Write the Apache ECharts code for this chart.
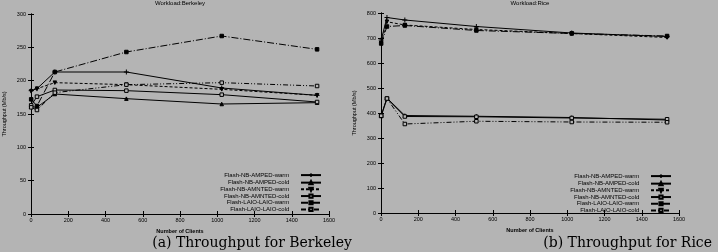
<!DOCTYPE html>
<html>
<head>
<meta charset="utf-8">
<script src="https://cdn.jsdelivr.net/npm/echarts@6/dist/echarts.min.js"></script>
<style>
html,body{margin:0;padding:0;background:#b4b4b4;}
#c{width:718px;height:252px;}
</style>
</head>
<body>
<div id="c"></div>
<script>
// ---- data ----
const clients = [1, 32, 128, 512, 1024, 1536];
const seriesNames = ['Flash-NB-AMPED-warm','Flash-NB-AMPED-cold','Flash-NB-AMNTED-warm','Flash-NB-AMNTED-cold','Flash-LAIO-LAIO-warm','Flash-LAIO-LAIO-cold'];
// Berkeley workload throughput (Mb/s)
const berkAmpedWarm  = [185, 188, 213, 213, 189, 178];
const berkAmpedCold  = [161, 160, 180, 173, 165, 167];
const berkAmntedWarm = [184, 188, 197, 194, 187, 178];
const berkAmntedCold = [163, 176, 186, 185, 179, 168];
const berkLaioWarm   = [172, 162, 213, 243, 267, 247];
const berkLaioCold   = [160, 156, 182, 194, 197, 192];
// Rice workload throughput (Mb/s)
const riceAmpedWarm  = [692, 782, 772, 746, 720, 706];
const riceAmpedCold  = [390, 460, 390, 387, 382, 372];
const riceAmntedWarm = [680, 765, 752, 734, 718, 702];
const riceAmntedCold = [388, 458, 386, 385, 380, 375];
const riceLaioWarm   = [678, 746, 750, 730, 718, 708];
const riceLaioCold   = [389, 458, 356, 367, 364, 363];
const xTicks = {min: 0, max: 1600, interval: 200};
const berkY = {min: 0, max: 300, interval: 50};
const riceY = {min: 0, max: 800, interval: 100};

// ---- styles ----
const BG = '#b4b4b4';
const FONT = 'Liberation Sans';
const plusPath = 'path://M0,5L10,5M5,0L5,10';
const styles = [
  {symbol: plusPath, symbolSize: 5, dash: 'solid', fill: 'none'},
  {symbol: 'triangle', symbolSize: 3.5, dash: 'solid', fill: '#000'},
  {symbol: 'triangle', symbolSize: 3.5, rotate: 180, dash: [3, 2], fill: '#000'},
  {symbol: 'rect', symbolSize: 3.5, dash: 'solid', fill: BG},
  {symbol: 'rect', symbolSize: 3.5, dash: [7, 2, 1, 2], fill: '#000'},
  {symbol: 'rect', symbolSize: 3.5, dash: [5, 2, 1, 2, 1, 2], fill: BG}
];
const berkData = [berkAmpedWarm, berkAmpedCold, berkAmntedWarm, berkAmntedCold, berkLaioWarm, berkLaioCold];
const riceData = [riceAmpedWarm, riceAmpedCold, riceAmntedWarm, riceAmntedCold, riceLaioWarm, riceLaioCold];

function mkSeries(dataArr, axisIdx) {
  return dataArr.map((vals, i) => {
    const s = styles[i];
    return {
      type: 'line',
      name: seriesNames[i],
      xAxisIndex: axisIdx * 2,
      yAxisIndex: axisIdx * 2,
      data: clients.map((x, k) => [x, vals[k]]),
      symbol: s.symbol,
      symbolSize: s.symbolSize,
      symbolRotate: s.rotate || 0,
      showAllSymbol: true,
      lineStyle: {color: '#000', width: 1, type: s.dash},
      itemStyle: {color: s.fill, borderColor: '#000', borderWidth: 1},
      emphasis: {disabled: true},
      z: 3
    };
  });
}

const tickFmt = v => String(v);
function xAxes(gi) {
  const common = {
    type: 'value', gridIndex: gi, min: xTicks.min, max: xTicks.max, interval: xTicks.interval,
    axisLine: {show: true, lineStyle: {color: '#000', width: 1}},
    axisTick: {show: true, inside: true, length: 3, lineStyle: {color: '#000'}},
    splitLine: {show: false}
  };
  return [
    Object.assign({}, common, {
      position: 'bottom',
      axisLabel: {show: true, color: '#000', fontSize: 5.5, fontFamily: FONT, margin: 3, formatter: tickFmt},
      name: 'Number of Clients', nameLocation: 'middle', nameGap: 14,
      nameTextStyle: {color: '#000', fontSize: 5.5, fontFamily: FONT, fontWeight: 'bold'}
    }),
    Object.assign({}, common, {position: 'top', axisLabel: {show: false}})
  ];
}
function yAxes(gi, y) {
  const common = {
    type: 'value', gridIndex: gi, min: y.min, max: y.max, interval: y.interval,
    axisLine: {show: true, lineStyle: {color: '#000', width: 1}},
    axisTick: {show: true, inside: true, length: 3, lineStyle: {color: '#000'}},
    splitLine: {show: false}
  };
  return [
    Object.assign({}, common, {
      position: 'left',
      axisLabel: {show: true, color: '#000', fontSize: 5.5, fontFamily: FONT, margin: 5, formatter: tickFmt},
      name: 'Throughput (Mb/s)', nameLocation: 'middle', nameGap: 24, nameRotate: 90,
      nameTextStyle: {color: '#000', fontSize: 5.5, fontFamily: FONT}
    }),
    Object.assign({}, common, {position: 'right', axisLabel: {show: false}})
  ];
}

function legendFor(right, top) {
  return {
    orient: 'vertical', right: right, top: top, align: 'right',
    itemWidth: 20, itemHeight: 4, itemGap: 0.2, padding: 0,
    formatter: n => n + '    ',
    textStyle: {color: '#000', fontSize: 6, fontFamily: FONT, lineHeight: 6.5},
    selectedMode: false,
    data: seriesNames
  };
}

const chart = echarts.init(document.getElementById('c'), null, {renderer: 'canvas'});
chart.setOption({
  backgroundColor: BG,
  animation: false,
  grid: [
    {left: 31, top: 14, width: 298, height: 200, show: false},
    {left: 381, top: 13, width: 298, height: 200, show: false}
  ],
  xAxis: [...xAxes(0), ...xAxes(1)],
  yAxis: [...yAxes(0, berkY), ...yAxes(1, riceY)],
  legend: [legendFor(396, 171), legendFor(46, 172)],
  series: [...mkSeries(berkData, 0), ...mkSeries(riceData, 1)],
  graphic: [
    {type: 'text', x: 180, y: 3, style: {text: 'Workload:Berkeley', align: 'center', verticalAlign: 'middle', fill: '#000', font: '6px "Liberation Sans"'}},
    {type: 'text', x: 530, y: 3, style: {text: 'Workload:Rice', align: 'center', verticalAlign: 'middle', fill: '#000', font: '6px "Liberation Sans"'}},
    {type: 'text', x: 352, y: 243, style: {text: '(a) Throughput for Berkeley', align: 'right', verticalAlign: 'middle', fill: '#000', font: '14px "DejaVu Serif"'}},
    {type: 'text', x: 712, y: 243, style: {text: '(b) Throughput for Rice', align: 'right', verticalAlign: 'middle', fill: '#000', font: '14px "DejaVu Serif"'}}
  ]
});
</script>
</body>
</html>
